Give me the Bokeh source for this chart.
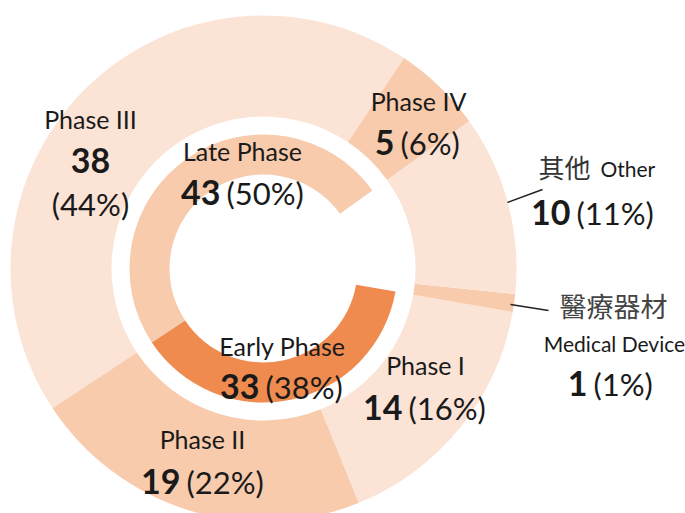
from bokeh.plotting import figure
from bokeh.models import Range1d, ColumnDataSource
from bokeh.core.properties import value
from bokeh.embed import file_html
from bokeh.resources import INLINE

# ---------------- data ----------------
outer_names = ["Phase IV", "Phase III", "Phase II", "Phase I", "醫療器材 Medical Device", "其他 Other"]
outer_values = [5, 38, 19, 14, 1, 10]
outer_pct = ["(6%)", "(44%)", "(22%)", "(16%)", "(1%)", "(11%)"]

inner_names = ["Late Phase", "Early Phase", ""]
inner_values = [43, 33, 11]          # last one is the empty gap (Other + Medical Device)
inner_pct = ["(50%)", "(38%)", ""]

# ---------------- styles ----------------
LIGHT = "#FBE3D6"
MID = "#F8CBAD"
DARK = "#EF8B4F"
outer_colors = [MID, LIGHT, MID, LIGHT, MID, LIGHT]
inner_colors = [MID, DARK, None]

FONT = "Lato"
CJK = "Noto Sans CJK TC"
TXT = "#1a1a1a"

W, H = 685, 513
# data coordinates == screen pixels (x right, y = 513 - screen_y)
p = figure(width=W, height=H, x_range=Range1d(0, W), y_range=Range1d(0, H),
           output_backend="svg", toolbar_location=None, min_border=0,
           x_axis_location=None, y_axis_location=None)
p.grid.visible = False
p.outline_line_color = None
p.background_fill_color = "white"
p.border_fill_color = "white"

CX, CY = 263, 513 - 268
START = 35.6

def cumulative(vals, start):
    tot = sum(vals)
    s, e, a = [], [], start
    for v in vals:
        s.append(a)
        a += v / tot * 360.0
        e.append(a)
    return s, e

os_, oe_ = cumulative(outer_values, START)
src_o = ColumnDataSource(dict(s=os_, e=oe_, c=outer_colors))
p.annular_wedge(x=CX, y=CY, inner_radius=152, outer_radius=253, start_angle="s", end_angle="e",
                start_angle_units="deg", end_angle_units="deg", direction="anticlock",
                fill_color="c", line_color=None, source=src_o)

is_, ie_ = cumulative(inner_values, START)
n = len([c for c in inner_colors if c])
src_i = ColumnDataSource(dict(s=is_[:n], e=ie_[:n], c=inner_colors[:n]))
p.annular_wedge(x=CX, y=CY, inner_radius=94, outer_radius=134, start_angle="s", end_angle="e",
                start_angle_units="deg", end_angle_units="deg", direction="anticlock",
                fill_color="c", line_color=None, source=src_i)

def T(x, y_screen, text, size, bold=False, align="left", font=FONT, color=TXT):
    p.text(x=[x], y=[513 - y_screen], text=[text], text_font=value(font),
           text_font_size=f"{size}px", text_font_style="bold" if bold else "normal",
           text_align=align, text_baseline="middle", text_color=color)

NUM = 34
PCT = 31
LAB = 25

def pair(num, pct, xr, yc):
    T(xr, yc, str(num), NUM, bold=True, align="right")
    T(xr + 6, yc, pct, PCT)

# Phase III
T(90, 118, outer_names[1], LAB, align="center")
T(90, 160, str(outer_values[1]), NUM, bold=True, align="center")
T(90, 203, outer_pct[1], PCT, align="center")
# Phase IV
T(418, 100, outer_names[0], LAB, align="center")
pair(outer_values[0], outer_pct[0], 394, 142)
# Other
T(538, 166, "其他", 26, font=CJK, color="#333333")
T(600, 168, "Other", 21)
pair(outer_values[5], outer_pct[5], 570, 212)
# Medical device
T(559, 305, "醫療器材", 27, font=CJK, color="#444444")
T(614, 343, "Medical Device", 21, align="center")
pair(outer_values[4], outer_pct[4], 587, 383)
# Phase I
T(425, 364, outer_names[3], LAB, align="center")
pair(outer_values[3], outer_pct[3], 402, 407)
# Phase II
T(202, 438, outer_names[2], LAB, align="center")
pair(outer_values[2], outer_pct[2], 180, 481)
# Late phase
T(242, 150, inner_names[0], LAB, align="center")
pair(inner_values[0], inner_pct[0], 220, 192)
# Early phase
T(282, 345, inner_names[1], LAB, align="center")
pair(inner_values[1], inner_pct[1], 259, 386)

# leader lines
p.segment(x0=[507, 510], y0=[513 - 202, 513 - 304], x1=[542, 548], y1=[513 - 189, 513 - 310],
          line_color="#222222", line_width=1.5)

open("out.html", "w").write(file_html(p, INLINE))
